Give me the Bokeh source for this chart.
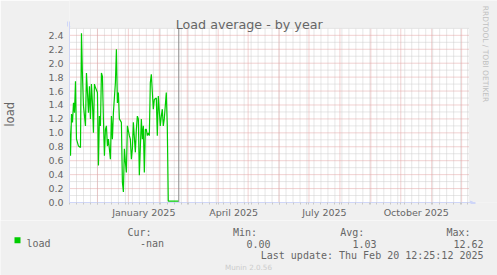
import math
import pandas as pd
from bokeh.plotting import figure
from bokeh.layouts import column
from bokeh.models import (Range1d, FixedTicker, DatetimeTickFormatter, Label,
                          Arrow, NormalHead, PrintfTickFormatter)
from bokeh.core.properties import value
from bokeh.embed import file_html
from bokeh.resources import INLINE

# ---------------- data ----------------
dates = [
    "2024-11-03", "2024-11-04", "2024-11-05", "2024-11-06", "2024-11-07", "2024-11-08",
    "2024-11-09", "2024-11-10", "2024-11-11", "2024-11-12", "2024-11-14", "2024-11-15",
    "2024-11-16", "2024-11-17", "2024-11-19", "2024-11-20", "2024-11-21", "2024-11-22",
    "2024-11-23", "2024-11-24", "2024-11-25", "2024-11-26", "2024-11-27", "2024-11-28",
    "2024-11-29", "2024-12-01", "2024-12-02", "2024-12-03", "2024-12-04", "2024-12-05",
    "2024-12-06", "2024-12-07", "2024-12-08", "2024-12-09", "2024-12-10", "2024-12-11",
    "2024-12-12", "2024-12-14", "2024-12-15", "2024-12-16", "2024-12-17", "2024-12-19",
    "2024-12-20", "2024-12-21", "2024-12-22", "2024-12-23", "2024-12-25", "2024-12-26",
    "2024-12-27", "2024-12-28", "2024-12-29", "2024-12-30", "2024-12-31", "2025-01-02",
    "2025-01-03", "2025-01-04", "2025-01-05", "2025-01-06", "2025-01-08", "2025-01-09",
    "2025-01-10", "2025-01-11", "2025-01-12", "2025-01-14", "2025-01-15", "2025-01-16",
    "2025-01-17", "2025-01-18", "2025-01-19", "2025-01-20", "2025-01-21", "2025-01-22",
    "2025-01-23", "2025-01-24", "2025-01-26", "2025-01-27", "2025-01-29", "2025-01-30",
    "2025-01-31", "2025-02-02", "2025-02-03", "2025-02-04", "2025-02-05", "2025-02-06",
    "2025-02-08", "2025-02-09", "2025-02-10", "2025-02-20T12:00:00",
]
load = [
    1.10, 0.67, 1.27, 1.15, 1.43, 1.29,
    1.74, 0.91, 0.86, 0.81, 0.79, 2.43,
    1.81, 1.39, 1.10, 1.86, 1.58, 1.29,
    1.67, 1.20, 1.70, 1.43, 1.00, 1.70,
    1.65, 1.58, 0.53, 1.24, 1.10, 1.86,
    1.81, 1.20, 0.67, 1.05, 1.10, 0.81,
    0.91, 0.62, 1.24, 0.91, 1.29, 1.72,
    2.20, 1.43, 1.58, 1.20, 1.15, 0.29,
    0.15, 0.77, 0.58, 0.43, 1.10, 0.96,
    0.91, 0.62, 0.77, 1.15, 0.72, 1.05,
    1.24, 1.20, 0.39, 1.20, 0.91, 1.10,
    0.43, 1.05, 1.05, 0.96, 1.00, 0.96,
    1.72, 1.84, 1.34, 1.48, 1.50, 0.96,
    1.53, 1.10, 1.24, 1.34, 1.10, 1.20,
    1.58, 1.10, 0.02, 0.02,
]

y_ticks = [0.0, 0.2, 0.4, 0.6, 0.8, 1.0, 1.2, 1.4, 1.6, 1.8, 2.0, 2.2, 2.4]
y_minor = [0.1, 0.3, 0.5, 0.7, 0.9, 1.1, 1.3, 1.5, 1.7, 1.9, 2.1, 2.3, 2.5]
x_label_ticks = ["2025-01-16T12:00:00", "2025-04-16T12:00:00", "2025-07-16T12:00:00", "2025-10-16T12:00:00"]
x_start = "2024-11-03"
x_end = "2025-12-08"
y_max = 2.5
last_update = "2025-02-20T12:25:12"

title_text = "Load average - by year"
y_label_text = "load"
series_name = "load"
legend_heads = ["Cur:", "Min:", "Avg:", "Max:"]
legend_values = ["-nan", "0.00", "1.03", "12.62"]
last_update_text = "Last update: Thu Feb 20 12:25:12 2025"
watermark = "RRDTOOL / TOBI OETIKER"
version_text = "Munin 2.0.56"

# ---------------- layout constants (pixels) ----------------
W, H = 497, 275
LEFT, PLOT_W, PLOT_H, TOP = 67, 401, 175, 28
TOP_H = 220                      # height of the upper (plot) figure
ARROW = 7                        # axis overshoot for the arrows

def ms(s):
    return (pd.Timestamp(s) - pd.Timestamp("1970-01-01")) / pd.Timedelta(milliseconds=1)

x0, x1 = ms(x_start), ms(x_end)
ms_per_px = (x1 - x0) / PLOT_W
u_per_px = y_max / PLOT_H
frame_w = W - LEFT
frame_h = TOP + PLOT_H
xr_end = x0 + frame_w * ms_per_px
yr_end = frame_h * u_per_px

month_starts = [ms(d) for d in pd.date_range(x_start, x_end, freq="MS")]
sundays = [ms(d) for d in pd.date_range(x_start, x_end, freq="W-SUN")]

AXIS = "#CFD6F8"
FONT = "#666666"
BG = "#F0F0F0"
GRID_MAJOR = "#E3A3A3"
GRID_MINOR = "#CDCDCD"

p = figure(width=W, height=TOP_H, x_axis_type="datetime",
           x_range=Range1d(x0, xr_end), y_range=Range1d(0, yr_end),
           output_backend="svg", toolbar_location=None, title=None,
           min_border_left=LEFT, min_border_right=0, min_border_top=0,
           min_border_bottom=TOP_H - frame_h)
p.background_fill_color = BG
p.border_fill_color = BG
p.outline_line_color = None
p.grid.visible = False
p.frame_align = False

# white canvas of the graph area
p.quad(left=[x0], right=[x1], bottom=[0], top=[y_max], fill_color="white",
       line_color=None, level="image")

# grid (kept inside the graph area)
p.segment(x0=sundays, y0=[0] * len(sundays), x1=sundays, y1=[y_max] * len(sundays),
          line_color=GRID_MINOR, line_dash="1 1", line_width=1, level="underlay")
p.segment(x0=[x0] * len(y_minor), y0=y_minor, x1=[x1] * len(y_minor), y1=y_minor,
          line_color=GRID_MINOR, line_dash="1 1", line_width=1, level="underlay")
p.segment(x0=month_starts, y0=[0] * len(month_starts), x1=month_starts,
          y1=[y_max] * len(month_starts),
          line_color=GRID_MAJOR, line_dash="1 1", line_width=1, level="underlay")
p.segment(x0=[x0] * (len(y_ticks) - 1), y0=y_ticks[1:], x1=[x1] * (len(y_ticks) - 1),
          y1=y_ticks[1:], line_color=GRID_MAJOR, line_dash="1 1", line_width=1, level="underlay")

# x axis (labels centred mid-month)
xa = p.xaxis[0]
xa.ticker = FixedTicker(ticks=[ms(t) for t in x_label_ticks], minor_ticks=sundays + month_starts)
fmt = DatetimeTickFormatter()
for attr in ["milliseconds", "seconds", "minsec", "minutes", "hourmin", "hours", "days", "months", "years"]:
    setattr(fmt, attr, "%B %Y")
xa.formatter = fmt
xa.bounds = (x0, x1 + ARROW * ms_per_px)
xa.major_tick_out = 0
xa.major_tick_in = 0
xa.minor_tick_out = 2
xa.minor_tick_in = 0
xa.minor_tick_line_color = "#C8C8C8"
xa.axis_line_color = AXIS
xa.major_label_text_font = "DejaVu Sans"
xa.major_label_text_font_size = "9.5px"
xa.major_label_text_color = FONT
xa.major_label_standoff = 2

ya = p.yaxis[0]
ya.ticker = FixedTicker(ticks=y_ticks)
ya.formatter = PrintfTickFormatter(format="%.1f")
ya.bounds = (0, y_max + ARROW * u_per_px)
ya.major_tick_out = 0
ya.major_tick_in = 0
ya.minor_tick_out = 0
ya.minor_tick_in = 0
ya.axis_line_color = AXIS
ya.major_label_text_font = "DejaVu Sans"
ya.major_label_text_font_size = "9.5px"
ya.major_label_text_color = FONT
ya.major_label_standoff = 6
# the axis title is centred on the whole frame; trailing no-break spaces
# move the visible word down to the middle of the graph area
ya.axis_label = y_label_text + "\u00a0" * 7
ya.axis_label_text_font = "DejaVu Sans"
ya.axis_label_text_font_size = "11.5px"
ya.axis_label_text_font_style = "normal"
ya.axis_label_text_color = FONT
ya.axis_label_standoff = 28

# data
p.line(x=pd.to_datetime(dates, format="ISO8601"), y=load, line_color="#00CC00", line_width=1.2)

# "now" rule
now = ms(last_update)
p.segment(x0=[now], y0=[0], x1=[now], y1=[y_max], line_color="#8C8C8C", line_width=1)

# axis arrows
p.add_layout(Arrow(end=NormalHead(size=5, line_color=AXIS, fill_color=AXIS, line_width=1),
                   x_start=LEFT, y_start=TOP, x_end=LEFT, y_end=TOP - ARROW,
                   start_units="canvas", end_units="canvas", line_color=AXIS, line_width=1))
p.add_layout(Arrow(end=NormalHead(size=5, line_color=AXIS, fill_color=AXIS, line_width=1),
                   x_start=LEFT + PLOT_W, y_start=TOP + PLOT_H, x_end=LEFT + PLOT_W + ARROW,
                   y_end=TOP + PLOT_H, start_units="canvas", end_units="canvas",
                   line_color=AXIS, line_width=1))

def lab(text, x, y, size, color=FONT, align="left", angle=0.0):
    p.add_layout(Label(text=text, x=x, y=y, x_units="canvas", y_units="canvas",
                       text_font="DejaVu Sans", text_font_size=size, text_color=color,
                       text_align=align, text_baseline="alphabetic", angle=angle))

lab(title_text, 248.7, 24.3, "12.7px", align="center")
lab(watermark, 484.5, 53.5, "7.5px", color="#C0C0C0", align="center", angle=-math.pi / 2)

# ---------------- lower figure: legend ----------------
q = figure(width=W, height=H - TOP_H, x_range=Range1d(0, W), y_range=Range1d(H, TOP_H),
           output_backend="svg", toolbar_location=None, title=None,
           x_axis_type=None, y_axis_type=None, min_border=0,
           min_border_left=0, min_border_right=0, min_border_top=0, min_border_bottom=0)
q.background_fill_color = BG
q.border_fill_color = BG
q.outline_line_color = None
q.grid.visible = False
q.frame_align = False

MONO = value("DejaVu Sans Mono")
head_x = [127, 232.5, 339.7, 446]
val_x = [163.5, 270, 376, 483]
q.text(x=head_x, y=[231.9] * 4, text=legend_heads, text_font=MONO, text_font_size="10px",
       text_color=FONT, text_align="left", text_baseline="alphabetic")
q.text(x=val_x, y=[243.2] * 4, text=legend_values, text_font=MONO, text_font_size="10px",
       text_color=FONT, text_align="right", text_baseline="alphabetic")
q.text(x=[26], y=[243.2], text=[series_name], text_font=MONO, text_font_size="10px",
       text_color=FONT, text_align="left", text_baseline="alphabetic")
q.text(x=[483], y=[254.5], text=[last_update_text], text_font=MONO, text_font_size="10px",
       text_color=FONT, text_align="right", text_baseline="alphabetic")
q.text(x=[248], y=[266.5], text=[version_text], text_font=value("DejaVu Sans"),
       text_font_size="7.2px", text_color="#CCCCCC", text_align="center",
       text_baseline="alphabetic")
q.quad(left=[14], right=[20], top=[236.7], bottom=[242.7], fill_color="#00CC00", line_color=None)

layout = column(p, q, spacing=0)
open("out.html", "w").write(file_html(layout, INLINE))
